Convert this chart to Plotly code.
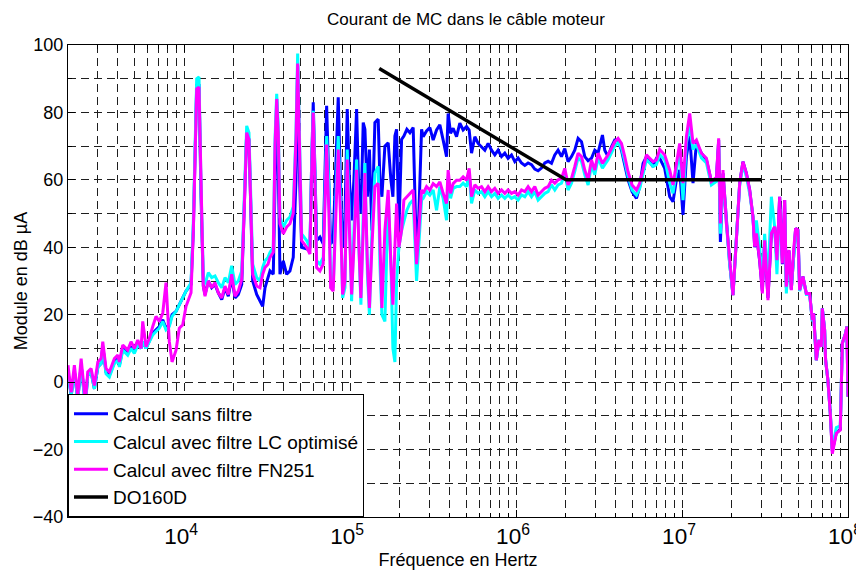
import plotly.graph_objects as go

# Frequency grid (Hz), shared by the three computed spectra
freq_hz = [
    2000, 2090, 2185, 2290, 2400, 2545, 2630, 2755, 2885, 3025, 3165, 3240, 3390, 3550,
    3805, 3990, 4080, 4275, 4580, 4795, 5020, 5265, 5510, 5640, 5905, 6180, 6480, 6780,
    7100, 7445, 7790, 8155, 8470, 8950, 9370, 9820, 10280, 11020,
    11380, 11920, 12310, 12660, 13070, 13380, 14010, 14680, 15370, 16090, 16870, 17660,
    18480, 19370, 20280, 21230, 22260, 23070, 23850, 24620, 25210, 25920, 27400, 28690,
    29780, 30750, 32050, 32950, 34490, 35320, 36160, 36970, 37840, 39610, 41520, 43460,
    45500, 47240, 48360, 49590, 51120, 54790, 57360, 58720, 60030, 61470, 62930, 65890,
    68970, 72300, 74640, 76410, 79200, 82230, 84910, 87530, 90240, 93180, 96190, 99170,
    102240, 105560, 109580, 113140, 116310, 120090, 122940, 127290, 130860, 135480,
    141220, 147840, 151360, 155600, 162230, 169820, 176290, 181260, 186340, 190760,
    196960, 204500, 211110, 220090, 229410, 240170, 251770, 259900, 269840,
    275900, 289200, 302700, 316900, 332200, 347700, 364000, 381600, 390100, 403400,
    418100, 438300, 458800, 480200, 503500, 522000, 539700, 564900, 591300, 619900,
    648900, 679200, 712000, 745300, 780100, 817800, 856100, 896100, 939500, 983500,
    1029400, 1079200, 1129800, 1182500, 1239700, 1297800, 1358700, 1424000, 1490800,
    1561000, 1635900, 1712500, 1792200,
    1879000, 1967000, 2059000, 2159000, 2259000, 2366000, 2480000, 2596000, 2718000,
    2848000, 2982000, 3121000, 3317000, 3424000, 3585000, 3758000, 3934000, 4118000,
    4317000, 4519000, 4731000, 5000000, 5316000, 5564000, 5825000, 6105000, 6390000,
    6689000, 7012000, 7339000, 7868000, 8432000, 8827000, 9253000, 9685000, 10139000,
    10630000, 11130000, 11650000, 12210000, 13090000, 14030000, 15030000, 16110000,
    16630000, 17030000, 17660000, 18510000, 19370000, 20280000, 21260000, 22260000,
    23290000, 24420000, 25560000, 26760000,
    27400000, 28050000, 29360000, 30480000, 31470000, 32950000, 34540000, 36160000,
    37320000, 38750000, 40230000, 41530000, 42520000, 44080000, 45560000, 47040000,
    48360000, 49930000, 51120000, 53520000, 56100000, 58720000, 60960000, 62070000,
    64440000, 66800000, 69070000, 70030000, 72300000, 73300000, 75680000, 78230000,
    80430000, 85030000, 89860000, 92410000, 96740000, 98490000, 100000000,
]

# "Calcul sans filtre" (dB µA)
sans_filtre = [
    3, -4, 3, -5, 5, -6.5, 2, 3, -2, 4.5, 5.5, 10.5, 3, 2,
    6, 7, 5, 10, 8.5, 10.5, 9, 11.5, 10, 12, 10, 12, 14.5, 15.5,
    16.5, 18.5, 16, 17, 20, 21, 23, 25, 27, 29,
    45, 88, 88, 55, 28.5, 26, 30, 28, 29, 26.5, 24.5, 28,
    25.5, 31, 25, 26, 29, 52, 74, 72, 52, 30, 26, 24,
    22.5, 28, 31.5, 33, 32, 60, 84, 65, 32, 36, 32, 33,
    37, 60, 94, 62, 40, 39.5, 40, 65, 83, 63, 42, 43,
    41, 82, 60, 41, 42, 62, 84.5, 60, 40, 48, 81, 60,
    48, 60, 81, 55, 50, 77, 75, 55, 69, 45,
    77, 78, 60, 55, 70, 71, 60, 55, 73, 75,
    45, 72, 73, 75, 74, 75.5, 36, 50, 75,
    72.8, 74.5, 75.5, 71.8, 74.8, 76.3, 71.8, 66.9, 79.7, 73.8,
    75.3, 72.8, 76.8, 74.8, 75.8, 74.8, 67.9, 72.8, 70.8, 69.8,
    68.8, 70.8, 68.8, 67.4, 68.8, 66.9, 67.9, 66.4, 67.4, 65.4,
    66.5, 65, 64.3, 65, 64.5, 63.2, 62.7, 63.5, 65,
    65.5, 64.9, 67.4, 68.8,
    66.9, 69.3, 65.4, 66.9, 68.8, 72.3, 71.3, 66.9, 65.7,
    66.4, 68.8, 68, 73.3, 68.8, 66.9, 69.8, 71.8, 71.8,
    68.8, 63.9, 60, 56.5, 54.5, 58, 64.9, 66.9, 65.4,
    63.9, 66.4, 66.4, 63.4, 55, 53.5, 60, 62.9, 49.6,
    66.9, 73, 59, 70.8, 67.9, 65.9, 59.5, 60.4,
    71.8, 41.6, 61.9, 47.1, 35.2, 25.8, 42, 59,
    65.4, 61.9, 57, 49,
    40, 44, 36, 27, 42, 25, 44, 46,
    36, 55, 35, 54, 28, 39, 27.5, 39,
    45.6, 45, 27.3, 31.3, 26.3, 26.3, 18.4, 20.4,
    6.5, 12.5, 10.5, 21.9, 15.5, 6.5, 0.6, -9.3,
    -20.5, -15, -14, 11.5, 14.5, 16.5, -4.3,
]

# "Calcul avec filtre LC optimisé" (dB µA)
filtre_lc = [
    3, -4, 3, -5, 5, -7, 2, 3, -2, 4.5, 5.5, 10.5, 2.5, 1.5,
    5.5, 6.5, 4.5, 9.5, 8, 10, 8.5, 11, 10, 12, 10, 12, 14, 15,
    16, 18, 15.5, 16.5, 19.5, 21, 23, 25.5, 27, 29.5,
    48, 90, 90.5, 58, 31, 29, 32.5, 31, 31.5, 29.5, 28, 31,
    29.5, 34.5, 29, 30, 33, 55, 76, 74, 54, 35, 31, 30,
    34, 36, 37, 38.5, 40, 72, 85.5, 76, 49, 46, 48, 49,
    52, 74, 97.5, 75, 44, 42, 40, 64, 80.5, 62, 36, 35,
    37, 73, 58, 30, 28, 55, 73, 55, 25, 28, 69, 50,
    24, 45, 66, 40, 23, 50, 65, 32, 20, 45,
    62, 64, 35, 20, 18, 55, 35, 10, 6, 30,
    40, 45, 48, 51, 53, 54, 30, 40, 54,
    54.5, 56.5, 55.5, 57, 51, 58, 54.5, 48, 61, 54.5,
    57.5, 58, 58, 59, 58, 61.5, 53, 57, 56, 56.5,
    55, 56.5, 55, 56, 54.5, 55.5, 54.5, 55.5, 54.5, 55,
    54, 55.5, 55, 56.5, 55, 56.5, 54, 55, 56,
    56.5, 58.5, 57, 58.5,
    59, 62, 57, 59, 62.5, 66.5, 65.5, 61.5, 58.5,
    64.5, 61.5, 66.5, 63.5, 64.5, 66, 68, 70, 71,
    69.5, 65.5, 61, 57, 55.5, 57.5, 62, 66, 65,
    64, 64.5, 67.5, 66, 59, 56, 63, 69, 54,
    71, 76, 69, 70.5, 66.5, 65, 58.5, 59.5,
    70, 44, 61.5, 47, 35, 26, 42, 58.5,
    64.5, 61, 56, 49,
    42, 48, 40, 30, 44, 30, 55, 46,
    32, 52, 38, 50, 26.3, 38, 28, 39,
    45, 45, 27, 31, 26, 26, 18, 20,
    6.5, 12.5, 10.5, 21.9, 15.5, 6.5, 0.6, -9,
    -19.5, -13.5, -13, 11.5, 14.5, 16.5, -4.3,
]

# "Calcul avec filtre FN251" (dB µA)
filtre_fn251 = [
    5, -3, 5, -4, 7, -6, 3, 4, -1, 6, 7, 12, 4, 3,
    7, 8, 6, 11, 9.5, 12, 10, 12.5, 10, 18, 10.5, 13, 16.5, 19.5,
    18, 20.5, 29.5, 12, 6, 9.5, 16, 17, 22.5, 26.5,
    45, 87, 87.5, 55, 28.5, 25.5, 30, 28, 29.5, 26.5, 25, 28.5,
    26, 32, 25.5, 27, 30.5, 52, 74, 72, 52, 32, 28.5, 28,
    32, 34, 35, 37, 38.5, 70, 84, 74, 47, 44, 46, 47,
    50, 72, 94.5, 72, 42, 40, 38, 62, 80, 60, 34, 33,
    35, 70.5, 50, 28, 27, 50, 69, 50, 26, 30, 66, 45,
    26, 40, 63, 40, 25, 45, 62, 35, 22, 40,
    58, 59, 40, 22, 45, 57, 35, 23, 40, 53,
    40, 45, 54, 55, 56, 57, 35, 44, 57,
    56, 58, 57, 58.9, 58, 59.4, 56, 53, 62.9, 56,
    58.9, 59.9, 59.9, 60.9, 59.9, 63.4, 55, 58.5, 57.5, 58,
    56.5, 58, 56.5, 57.5, 56, 57, 56, 57, 56, 56.5,
    55.5, 57, 56.5, 58, 56.5, 58, 55.5, 56.5, 57.5,
    58, 59.9, 59, 60,
    60.4, 63.4, 58.5, 60.4, 63.9, 67.9, 66.9, 62.9, 60,
    65.9, 62.9, 67.9, 64.9, 65.9, 67.4, 69.3, 71.3, 72.3,
    70.8, 66.9, 62.4, 58.5, 57, 59, 63.4, 67.4, 66.4,
    65.4, 65.9, 69, 67.4, 62.9, 58.5, 64.9, 70.8, 59,
    72.8, 79.7, 70.8, 71.8, 67.9, 66.4, 59.5, 60.7,
    72.3, 47.1, 62.9, 47.1, 35.2, 25.8, 42.2, 59,
    65.4, 61.9, 57, 49,
    40.2, 44.1, 36.2, 26.3, 42.1, 24.3, 44.1, 46.1,
    36.2, 55, 35.2, 54, 28.3, 39.2, 27.3, 39.2,
    45.6, 45.1, 27.3, 31.3, 26.3, 26.3, 18.4, 20.4,
    6.5, 12.5, 10.5, 21.9, 15.5, 6.5, 0.6, -9.3,
    -21.2, -15.2, -14.2, 11.5, 14.5, 16.5, -4.3,
]

# DO160D limit
do160d_freq = [150000, 2000000, 30000000]
do160d_level = [93, 60, 60]

series_names = ["Calcul sans filtre", "Calcul avec filtre LC optimisé",
                "Calcul avec filtre FN251", "DO160D"]

FONT = "Arial, 'Liberation Sans', Helvetica, sans-serif"

fig = go.Figure()
fig.add_trace(go.Scatter(x=freq_hz, y=sans_filtre, mode="lines", name=series_names[0],
                         line=dict(color="#0000ff", width=3)))
fig.add_trace(go.Scatter(x=freq_hz, y=filtre_lc, mode="lines", name=series_names[1],
                         line=dict(color="#00ffff", width=3)))
fig.add_trace(go.Scatter(x=freq_hz, y=filtre_fn251, mode="lines", name=series_names[2],
                         line=dict(color="#ff00ff", width=3)))
fig.add_trace(go.Scatter(x=do160d_freq, y=do160d_level, mode="lines", name=series_names[3],
                         line=dict(color="#000000", width=3.5)))

grid_color = "#1e1e1e"
grid_dash = "8px,5px"

# the page body adds an 8 px offset, so the figure is sized to fit inside the window
fig.update_layout(
    width=856, height=565,
    margin=dict(l=60, r=16, t=37, b=56),
    paper_bgcolor="white", plot_bgcolor="white",
    font=dict(family=FONT, size=19, color="black"),
    title=dict(text="Courant de MC dans le câble moteur", x=0.535, xanchor="center",
               y=1 - 11 / 565, yanchor="middle", font=dict(size=17, color="black")),
    showlegend=True,
    legend=dict(x=0, y=0, xanchor="left", yanchor="bottom",
                bgcolor="white", bordercolor="black", borderwidth=1,
                font=dict(size=19, color="black"), itemwidth=34,
                tracegroupgap=0),
    xaxis=dict(
        type="log", range=[3.30103, 8], dtick=1, automargin=False,
        exponentformat="power", showexponent="all", ticklabeloverflow="allow",
        ticklabelshift=-3,
        showline=True, linecolor="black", linewidth=1, mirror="allticks",
        ticks="inside", ticklen=7, tickcolor="black",
        showgrid=True, gridcolor=grid_color, gridwidth=1, griddash=grid_dash,
        zeroline=False,
        minor=dict(dtick="D1", ticks="inside", ticklen=4, tickcolor="black",
                   showgrid=True, gridcolor=grid_color, gridwidth=1, griddash=grid_dash),
        title=dict(text="Fréquence en Hertz", standoff=5, font=dict(size=18)),
        tickfont=dict(size=18),
    ),
    yaxis=dict(
        range=[-40, 100], dtick=20, tick0=0, automargin=False,
        showline=True, linecolor="black", linewidth=1, mirror="allticks",
        ticks="inside", ticklen=7, tickcolor="black",
        showgrid=True, gridcolor=grid_color, gridwidth=1, griddash=grid_dash,
        zeroline=False,
        minor=dict(dtick=10, ticks="inside", ticklen=4, tickcolor="black",
                   showgrid=True, gridcolor=grid_color, gridwidth=1, griddash=grid_dash),
        title=dict(text="Module en dB µA", standoff=0, font=dict(size=18)),
        tickfont=dict(size=18),
    ),
)

fig.write_html("out.html")
